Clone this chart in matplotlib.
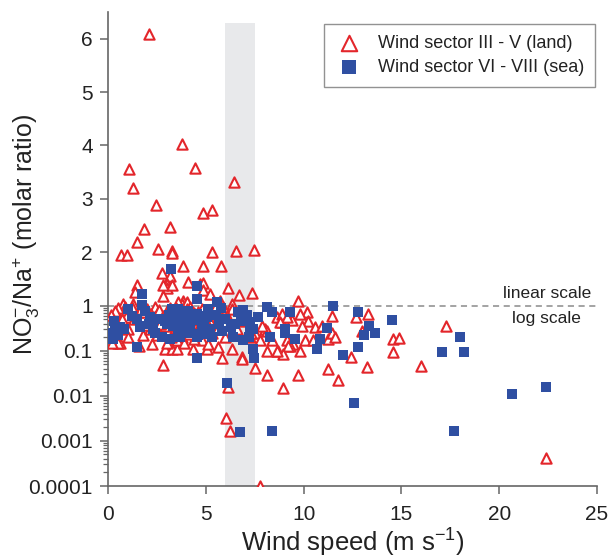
import numpy as np
import matplotlib.pyplot as plt
from matplotlib.ticker import FixedLocator, FixedFormatter

plt.rcParams['font.family'] = ['Liberation Sans', 'DejaVu Sans']
plt.rcParams['mathtext.fontset'] = 'custom'
plt.rcParams['mathtext.rm'] = 'Liberation Sans'
plt.rcParams['mathtext.it'] = 'Liberation Sans:italic'

# wind sector III - V (land): wind speed (m/s), NO3-/Na+ ratio
land_x = [2.11, 3.77, 1.06, 4.45, 1.29, 2.45, 1.86, 3.19, 1.47, 2.57, 3.26, 3.27, 0.65, 0.99,
          3.83, 2.74, 4.87, 5.30, 6.44, 5.32, 6.54, 7.48, 4.84, 5.78,
          3.17, 1.47, 3.00, 3.03, 4.11, 4.70, 1.38, 2.83, 3.85, 0.78, 1.29, 4.87, 4.87, 6.15,
          5.21, 6.70, 7.35, 5.73, 6.32, 9.70, 3.26, 2.83, 3.77, 4.02,
          0.44, 0.61, 1.04, 1.81, 2.23, 2.15, 2.91, 3.26, 3.51, 3.00, 4.36, 3.77, 4.02, 2.40,
          1.55, 0.87, 0.78, 1.89, 2.57, 3.60, 3.26, 3.51, 4.02, 4.62, 4.79, 0.53,
          5.73, 5.98, 6.32, 6.92, 7.52, 8.62, 8.88, 8.03, 9.13, 9.47, 5.04, 5.64, 6.32, 6.83,
          8.11, 8.71, 5.98, 7.26, 7.77,
          2.83, 6.15, 6.03, 6.24, 7.77, 8.96, 8.11, 9.70, 7.52, 6.87, 5.81,
          11.43, 12.68, 13.28, 12.97, 12.41, 14.55, 14.58, 10.16, 10.24, 9.90, 10.07, 10.50,
          10.58, 10.92, 11.26, 11.43, 11.60, 14.89, 16.00, 17.28, 22.39, 11.23, 11.74, 13.22,
          9.39, 9.30, 8.88, 9.13, 8.79, 9.82, 9.82, 9.22, 8.96, 8.62, 8.36, 8.11, 7.86,
          2.00, 2.20, 2.40, 2.60, 2.80, 3.00, 3.10, 3.30, 3.50, 3.60, 3.70, 3.90, 4.00, 4.20,
          4.30, 4.40, 4.60, 4.80, 5.00, 5.20, 5.40, 5.60, 5.90, 2.30, 2.90, 3.40, 3.80, 4.10,
          4.50, 4.90, 5.30, 5.60, 2.50, 3.20, 3.90, 4.40, 5.10, 1.70, 1.20, 0.90, 0.50, 0.35,
          1.00, 1.60, 0.20, 6.60, 7.00, 7.30, 6.10, 2.70, 3.45, 4.15, 4.65, 1.95, 1.35,
          0.15, 0.70, 1.25, 2.05, 2.65, 3.15, 3.55, 4.25, 4.95, 5.45]
land_y = [6.08, 4.03, 3.56, 3.58, 3.21, 2.89, 2.43, 2.48, 2.20, 2.06, 2.02, 1.98, 1.95, 1.95,
          1.75, 1.62, 2.74, 2.80, 3.31, 2.00, 2.02, 2.04, 1.75, 1.75,
          1.55, 1.39, 1.41, 1.34, 1.44, 1.41, 1.25, 1.19, 1.09, 1.03, 1.03, 1.42, 1.29, 1.34,
          1.22, 1.20, 1.23, 1.09, 1.03, 1.08, 1.38, 1.38, 1.03, 1.06,
          0.46, 0.15, 0.30, 0.22, 0.14, 0.30, 0.11, 0.11, 0.11, 0.15, 0.11, 0.20, 0.84, 0.92,
          0.71, 0.92, 0.71, 0.71, 0.71, 1.06, 0.43, 0.17, 0.39, 0.71, 0.17, 0.15,
          0.84, 0.71, 0.84, 0.55, 0.25, 0.55, 0.43, 0.30, 0.17, 0.14, 0.11, 0.12, 0.11, 0.071,
          0.10, 0.10, 0.20, 0.20, 0.17,
          0.049, 0.016, 0.0033, 0.0017, 0.0001, 0.015, 0.029, 0.029, 0.042, 0.065, 0.069,
          0.60, 0.57, 0.65, 0.28, 0.071, 0.18, 0.096, 0.71, 0.46, 0.36, 0.17, 0.17,
          0.33, 0.36, 0.18, 0.25, 0.20, 0.19, 0.046, 0.36, 0.00041, 0.040, 0.022, 0.043,
          0.48, 0.13, 0.65, 0.55, 0.43, 0.65, 0.10, 0.13, 0.084, 0.10, 0.17, 0.28, 0.36,
          0.85, 0.65, 0.55, 0.80, 0.60, 0.75, 0.50, 0.65, 0.90, 0.45, 0.62, 0.78, 0.55, 0.95,
          0.48, 0.70, 0.58, 0.85, 0.62, 0.45, 0.75, 0.55, 0.95, 0.40, 0.35, 0.30, 0.27, 0.33,
          0.26, 0.30, 0.25, 0.32, 0.22, 0.20, 0.15, 0.18, 0.14, 0.85, 0.80, 0.55, 0.90, 0.75,
          0.20, 0.13, 0.15, 0.30, 0.45, 0.25, 0.60, 0.42, 0.60, 0.24, 0.52, 0.38, 0.50,
          0.62, 0.50, 0.95, 0.50, 0.40, 0.88, 0.70, 0.60, 0.50, 0.90]

# wind sector VI - VIII (sea)
sea_x = [3.22, 1.72, 4.53, 4.53, 5.55, 1.75,
         1.21, 0.61, 0.27, 0.27, 1.64, 1.47, 2.15, 2.32, 2.74, 3.17, 3.00, 3.43, 3.26, 3.77,
         4.45, 4.53, 4.79, 4.11,
         8.11, 8.36, 9.30, 6.66, 5.13, 5.04, 7.26, 7.68, 6.49, 5.81, 6.41, 6.92, 7.43, 8.28,
         9.05, 5.30, 4.87,
         4.53, 6.07, 6.75, 8.40, 7.48,
         11.49, 12.80, 14.50, 13.34, 13.65, 13.09, 12.80, 12.03, 11.18, 10.84, 10.67, 9.56,
         17.06, 18.00, 18.20, 20.64, 22.39, 17.70, 12.60, 9.05,
         3.26, 3.60, 4.53, 7.26, 4.19, 3.68, 4.53, 1.64, 0.37,
         2.90, 3.10, 3.30, 3.50, 3.60, 3.80, 4.00, 4.20, 4.30, 4.70, 4.90, 5.20, 5.50, 5.70,
         6.00, 6.30, 6.80, 7.10, 7.40, 2.60, 3.70, 2.10, 1.90, 0.80, 0.50, 1.00, 0.30, 1.50,
         2.40, 4.60, 5.80, 6.90, 7.20]
sea_y = [1.69, 1.22, 1.13, 1.36, 1.06, 1.01,
         0.60, 0.33, 0.25, 0.18, 0.33, 0.12, 0.55, 0.30, 0.20, 0.18, 0.39, 0.84, 0.51, 0.28,
         0.51, 0.23, 0.36, 0.77,
         0.92, 0.71, 0.71, 0.71, 0.84, 0.55, 0.43, 0.55, 0.39, 0.28, 0.20, 0.17, 0.11, 0.20,
         0.30, 0.20, 0.23,
         0.069, 0.019, 0.0016, 0.0017, 0.069,
         1.00, 0.71, 0.48, 0.36, 0.25, 0.22, 0.12, 0.082, 0.32, 0.18, 0.11, 0.18,
         0.095, 0.20, 0.096, 0.011, 0.016, 0.0017, 0.0071, 0.25,
         0.84, 0.84, 0.65, 0.30, 0.25, 0.20, 0.20, 0.36, 0.30,
         0.45, 0.62, 0.35, 0.55, 0.28, 0.42, 0.65, 0.30, 0.48, 0.58, 0.42, 0.30, 0.62, 0.40,
         0.50, 0.33, 0.45, 0.62, 0.30, 0.50, 0.75, 0.40, 0.75, 0.30, 0.22, 0.85, 0.45, 0.50,
         0.25, 0.22, 0.90, 0.80, 0.20]

ytick_vals = [0.0001, 0.001, 0.01, 0.1, 1, 2, 3, 4, 5, 6]
ytick_labels = ['0.0001', '0.001', '0.01', '0.1', '1', '2', '3', '4', '5', '6']
xtick_vals = [0, 5, 10, 15, 20, 25]

K = 45 / 53.3  # height of one decade relative to one linear unit


def fwd(y):
    y = np.asarray(y, dtype=float)
    return np.where(y >= 1, y - 1, K * np.log10(np.clip(y, 1e-300, None)))


def inv(u):
    u = np.asarray(u, dtype=float)
    return np.where(u >= 0, u + 1, 10 ** (np.minimum(u, 0) / K))


red = '#e3262b'
blue = '#2f4fa2'
txt = '#222222'
axc = '#666666'

fig = plt.figure(figsize=(6.12, 5.6), dpi=100)
ax = fig.add_axes([108 / 612, 1 - 486 / 560, 489 / 612, 474 / 560])
ax.set_yscale('function', functions=(fwd, inv))
ax.set_xlim(0, 25)
ax.set_ylim(0.0001, 6.5)

ax.fill_between([6, 7.5], 0.0001, 6.3, color='#e8e9eb', lw=0, zorder=0)
ax.axhline(1, color='#8a8a8a', lw=1.1, ls=(0, (4, 3)), zorder=1)

ax.scatter(land_x, land_y, marker='^', s=55, facecolors='white', edgecolors=red,
           linewidths=1.5, zorder=3, label='Wind sector III - V (land)')
ax.scatter(sea_x, sea_y, marker='s', s=44, color=blue, linewidths=0, zorder=4,
           label='Wind sector VI - VIII (sea)')

ax.text(22.44, 1.23, 'linear scale', ha='center', va='center', fontsize=12.5, color=txt)
ax.text(22.44, 0.51, 'log scale', ha='center', va='center', fontsize=12.5, color=txt)

ax.yaxis.set_major_locator(FixedLocator(ytick_vals))
ax.yaxis.set_major_formatter(FixedFormatter(ytick_labels))
minors = [m * 10.0 ** e for e in range(-4, 0) for m in range(2, 10)]
ax.yaxis.set_minor_locator(FixedLocator(minors))
ax.set_xticks(xtick_vals)

for s in ['top', 'right']:
    ax.spines[s].set_visible(False)
for s in ['left', 'bottom']:
    ax.spines[s].set_color(axc)
    ax.spines[s].set_linewidth(1.2)

ax.tick_params(axis='both', which='major', labelsize=15, colors=axc, labelcolor=txt,
               length=6, width=1.1, direction='out')
ax.tick_params(axis='y', which='minor', length=3.5, width=0.9, colors=axc)
ax.tick_params(axis='x', pad=8)
ax.tick_params(axis='y', pad=5)

ax.set_xlabel(r'Wind speed (m s$^{-1}$)', fontsize=18.5, color=txt, labelpad=2)
ax.set_ylabel(r'NO$_3^{-}$/Na$^{+}$ (molar ratio)', fontsize=18, color=txt)
ax.yaxis.set_label_coords(-0.135, 0.53)

leg = ax.legend(loc='upper right', bbox_to_anchor=(0.996, 0.975), borderaxespad=0,
                fontsize=13, markerscale=1.5, fancybox=False, frameon=True,
                handletextpad=0.8, labelspacing=0.4, borderpad=0.6, handlelength=1.6)
leg.get_frame().set_edgecolor('#777777')
leg.get_frame().set_linewidth(1.0)
for t in leg.get_texts():
    t.set_color(txt)

fig.savefig('out.png', dpi=100)
